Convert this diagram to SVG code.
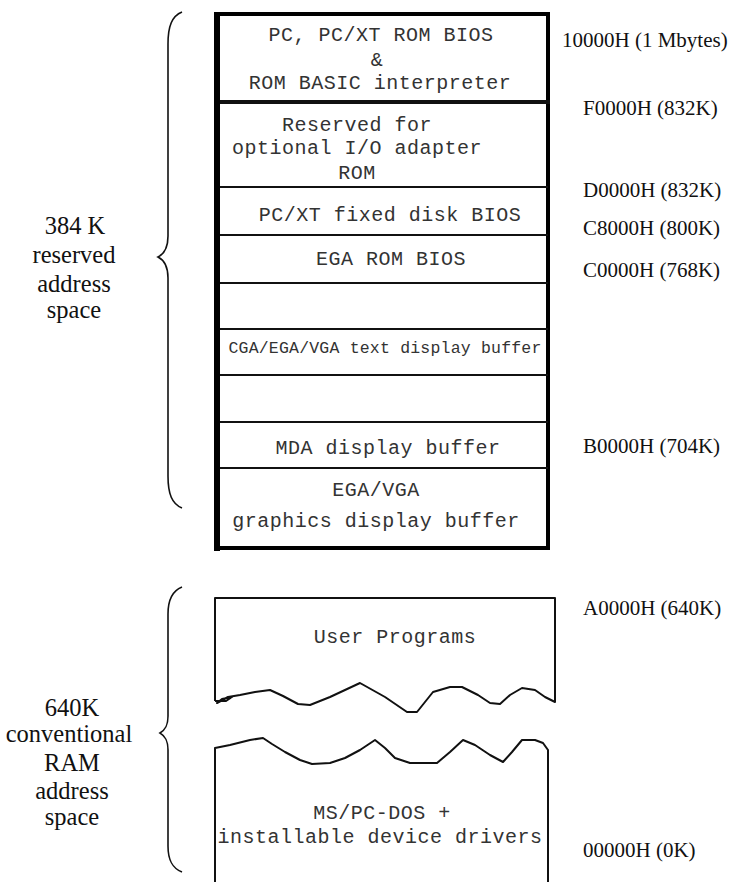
<svg xmlns="http://www.w3.org/2000/svg" width="731" height="882" viewBox="0 0 731 882">
  <style>
    .mono { font-family: "Liberation Mono", "DejaVu Sans Mono", monospace; font-size: 20px; letter-spacing: 0.5px; fill: #333; text-anchor: middle; }
    .small { font-size: 16.5px; letter-spacing: 0.2px; }
    .serif { font-family: "Liberation Serif", "Times New Roman", serif; fill: #111; }
    .addr { font-size: 21px; }
    .side { font-size: 24.5px; text-anchor: middle; }
    .div { stroke: #111; stroke-width: 2; }
    .brace { fill: none; stroke: #111; stroke-width: 1.6; }
    .torn { fill: none; stroke: #111; stroke-width: 2; stroke-linejoin: round; }
  </style>
  <rect width="731" height="882" fill="#fff"/>

  <!-- upper memory map: 384 K reserved area -->
  <g id="reserved-map">
    <rect x="217" y="14" width="331" height="534" fill="#fff" stroke="#000" stroke-width="4"/>
    <line x1="215" y1="102" x2="550" y2="102" stroke="#111" stroke-width="4"/>
    <line class="div" x1="217" y1="187" x2="548" y2="187"/>
    <line class="div" x1="217" y1="235" x2="548" y2="235" stroke-width="3"/>
    <line class="div" x1="217" y1="283" x2="548" y2="283"/>
    <line class="div" x1="217" y1="329" x2="548" y2="329"/>
    <line class="div" x1="217" y1="375" x2="548" y2="375"/>
    <line class="div" x1="217" y1="422" x2="548" y2="422"/>
    <line class="div" x1="217" y1="468" x2="548" y2="468"/>
    <line x1="217" y1="12" x2="217" y2="551" stroke="#000" stroke-width="6"/>
  </g>

  <g id="rom-bios">
    <text class="mono" x="381" y="41">PC, PC/XT ROM BIOS</text>
    <text class="mono" x="377" y="66" font-size="13">&amp;</text>
    <text class="mono" x="380" y="89">ROM BASIC interpreter</text>
  </g>
  <g id="adapter-rom">
    <text class="mono" x="357" y="131">Reserved for</text>
    <text class="mono" x="357" y="154">optional I/O adapter</text>
    <text class="mono" x="357" y="179">ROM</text>
  </g>
  <g id="disk-bios">
    <text class="mono" x="390" y="221">PC/XT fixed disk BIOS</text>
  </g>
  <g id="ega-bios">
    <text class="mono" x="391" y="265">EGA ROM BIOS</text>
  </g>
  <g id="empty-1"/>
  <g id="text-buffer">
    <text class="mono small" x="385" y="353">CGA/EGA/VGA text display buffer</text>
  </g>
  <g id="empty-2"/>
  <g id="mda-buffer">
    <text class="mono" x="388" y="454">MDA display buffer</text>
  </g>
  <g id="graphics-buffer">
    <text class="mono" x="376" y="496">EGA/VGA</text>
    <text class="mono" x="376" y="527">graphics display buffer</text>
  </g>

  <!-- lower memory map: conventional RAM -->
  <g id="user-programs">
    <path class="torn" d="M215,701 V598 H555 V702 L545,697 L535,690 L522,688 L510,695 L500,704 L490,703 L478,695 L462,687 L450,687 L433,692 L417,712 L407,712 L385,697 L360,683 L330,697 L310,705 L298,704 L283,696 L270,690 L255,692 L240,695 L228,697 L217,703 L222,699 L232,697 L226,701 L215,701"/>
    <text class="mono" x="395" y="643">User Programs</text>
  </g>
  <g id="dos">
    <path class="torn" d="M215,882 V748 L230,745 L250,740 L263,738 L272,744 L285,752 L300,760 L312,764 L330,763 L345,758 L360,750 L375,740 L385,748 L395,758 L410,763 L437,763 L450,752 L463,740 L475,745 L490,755 L503,762 L512,752 L522,740 L535,740 L543,743 L548,750 V882"/>
    <text class="mono" x="382" y="819">MS/PC-DOS +</text>
    <text class="mono" x="380" y="843">installable device drivers</text>
  </g>

  <!-- braces and their captions -->
  <g id="connectors">
    <path class="brace" d="M182,12 C172,16 168,26 168,44 V236 C168,248 164,254 158,257 C164,260 168,266 168,278 V476 C168,494 172,504 182,508"/>
    <path class="brace" d="M182,587 C172,591 168,600 168,614 V716 C168,726 165,730 160,733 C165,736 168,740 168,750 V846 C168,860 172,868 182,872"/>
  </g>

  <g id="reserved-label" class="serif side">
    <text x="75" y="234">384 K</text>
    <text x="74" y="263">reserved</text>
    <text x="74" y="292">address</text>
    <text x="74" y="318">space</text>
  </g>
  <g id="conventional-label" class="serif side">
    <text x="72" y="716">640K</text>
    <text x="69" y="742">conventional</text>
    <text x="72" y="771">RAM</text>
    <text x="72" y="799">address</text>
    <text x="72" y="825">space</text>
  </g>

  <!-- segment addresses -->
  <g id="addresses" class="serif addr">
    <text x="562" y="47">10000H (1 Mbytes)</text>
    <text x="583" y="115">F0000H (832K)</text>
    <text x="583" y="197">D0000H (832K)</text>
    <text x="583" y="235">C8000H (800K)</text>
    <text x="583" y="277">C0000H (768K)</text>
    <text x="583" y="453">B0000H (704K)</text>
    <text x="583" y="615">A0000H (640K)</text>
    <text x="583" y="857">00000H (0K)</text>
  </g>
</svg>
